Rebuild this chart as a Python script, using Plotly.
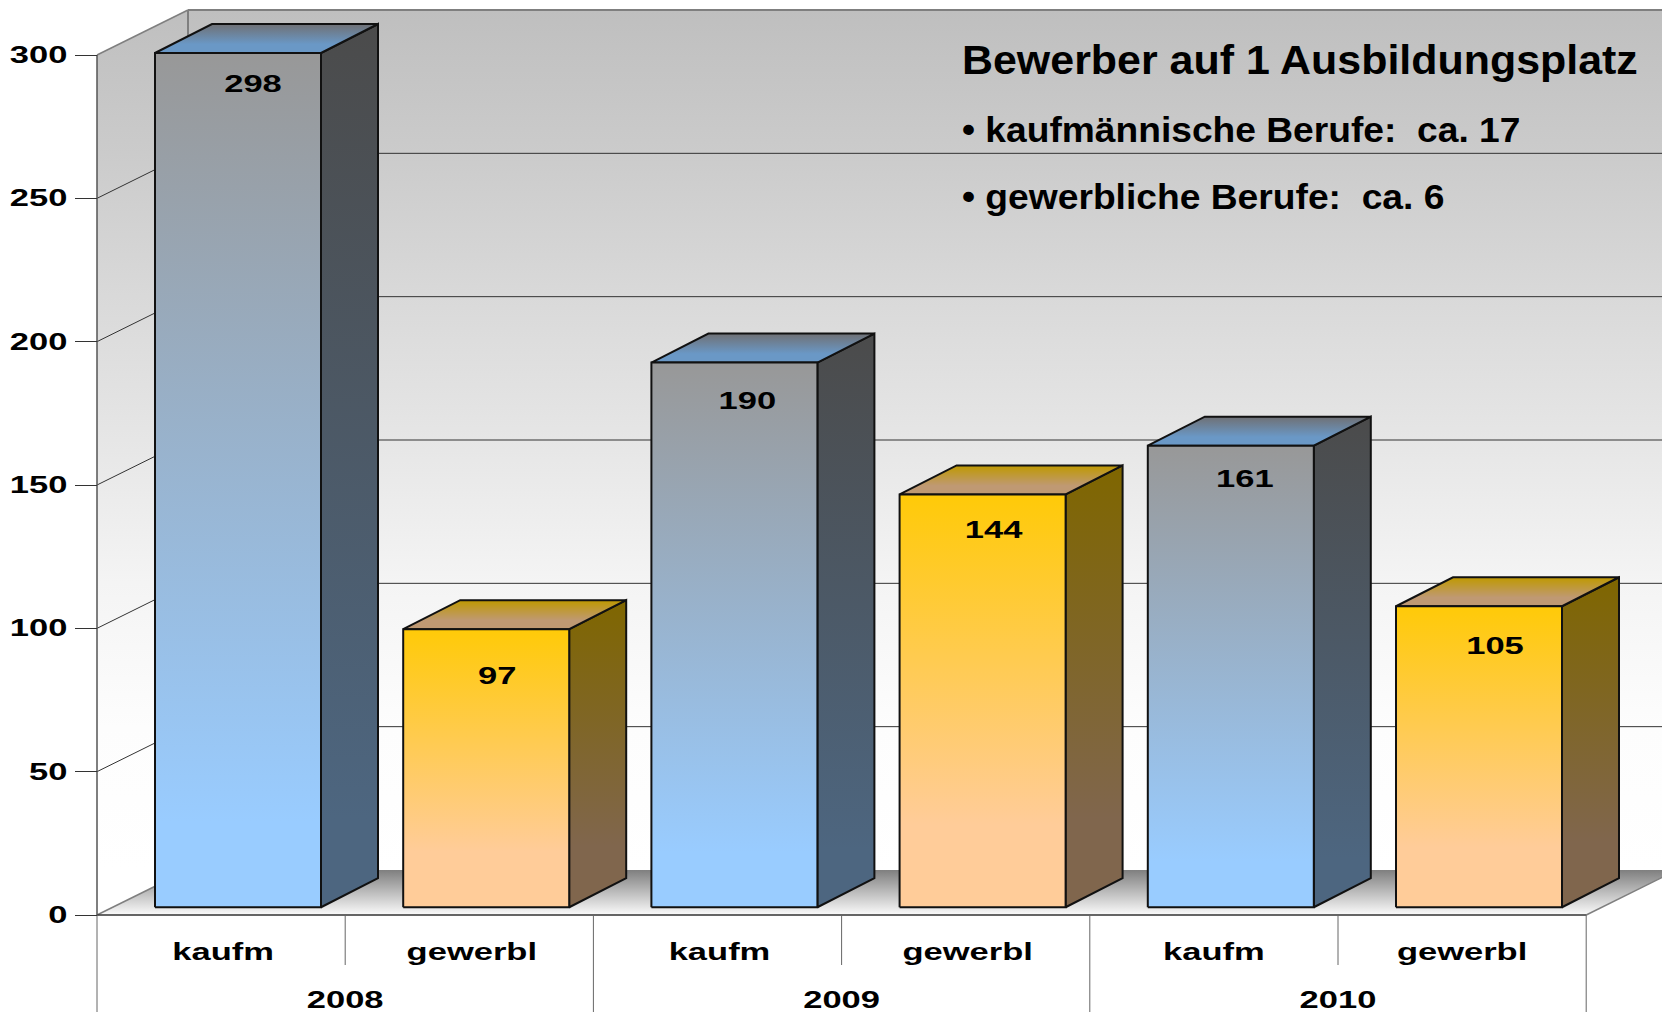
import json
import plotly.graph_objects as go

# ---- data ----
years = ["2008", "2009", "2010"]
groups = ["kaufm", "gewerbl", "kaufm", "gewerbl", "kaufm", "gewerbl"]
values = [298, 97, 190, 144, 161, 105]
y_ticks = [0, 50, 100, 150, 200, 250, 300]
title_lines = ["Bewerber auf 1 Ausbildungsplatz",
               "\u2022 kaufm\u00e4nnische Berufe:\u00a0\u00a0ca. 17",
               "\u2022 gewerbliche Berufe:\u00a0\u00a0ca. 6"]

# ---- styling / geometry ----
W, H = 1662, 1012
CAT = 248.2            # px per category
UNIT = 860 / 300       # px per value unit
X0, Y0 = 97, 915       # px of the front origin
WALL_DX, WALL_DY = 91 / CAT, 45 / UNIT
BAR_LEFT, BAR_W = 58 / CAT, 166 / CAT
BAR_LIFT = 2.7
BAR_DX, BAR_DY = 57 / CAT, 29 / UNIT
x_range = [-X0 / CAT, (W - X0) / CAT]
y_range = [-(H - Y0) / UNIT, Y0 / UNIT]
x_end = x_range[1] + 0.5
LABEL_FONT = "Liberation Sans"
LABEL_FONT_DICT = dict(family=LABEL_FONT, size=23, color="#000000", weight="bold")
BLUE = dict(front=("#989898", "#99ccff"), side=("#4b4b4b", "#4d6680"), top=("#6f7074", "#6a98c6"), flat=0.1)
GOLD = dict(front=("#ffca08", "#ffcc99"), side=("#7f6600", "#80664d"), top=("#bf9900", "#bf9973"), flat=0.2)
label_dx = [15, 11, 13, 11, 14, 16]   # px right of the bar centre
label_dy = [33, 49, 41, 38, 36, 42]   # px below the bar top
cat_shift = [2, 2.5, 2, 2, 0, 0]      # px right of the category centre
title_stretch = [1.047, 1.062, 1.063]

fig = go.Figure()


def poly(xs, ys, c_start=None, c_stop=None, start=None, stop=None, line=None, lw=1.5, flat=0.0):
    kw = {}
    if c_start is not None:
        scale = [[0, c_start], [1, c_stop]]
        if flat:
            scale = [[0, c_start], [flat, c_start], [1, c_stop]]
        kw["fillgradient"] = dict(type="vertical", start=start, stop=stop, colorscale=scale)
    fig.add_trace(go.Scatter(x=xs, y=ys, mode="lines", fill="toself" if c_start else "none",
                             line=dict(color=line or "rgba(0,0,0,0)", width=lw),
                             hoverinfo="skip", showlegend=False, **kw))


wall_top = 300 + WALL_DY
wall_bot = WALL_DY
wall_scale = [[0, "#ffffff"], [0.166, "#fdfdfd"], [0.334, "#f4f4f4"], [0.5, "#e6e6e6"],
              [0.667, "#d9d9d9"], [0.834, "#cbcbcb"], [1, "#bfbfbf"]]


def wall(xs, ys):
    fig.add_trace(go.Scatter(x=xs, y=ys, mode="lines", fill="toself", line=dict(width=0),
                             fillgradient=dict(type="vertical", start=wall_bot, stop=wall_top, colorscale=wall_scale),
                             hoverinfo="skip", showlegend=False))


# walls
wall([WALL_DX, x_end, x_end, WALL_DX, WALL_DX], [wall_bot, wall_bot, wall_top, wall_top, wall_bot])
wall([0, WALL_DX, WALL_DX, 0, 0], [0, wall_bot, wall_top, 300, 0])

# gridlines
for t in y_ticks[1:]:
    col = "#7f7f7f" if t == 300 else "#333333"
    lw = 2 if t == 300 else 1
    poly([WALL_DX, x_end], [t + WALL_DY, t + WALL_DY], line=col, lw=lw)
    if t < 300:
        poly([0, WALL_DX], [t, t + WALL_DY], line="#333333", lw=1)
poly([0, WALL_DX], [300, 300 + WALL_DY], line="#7f7f7f", lw=1.5)
poly([WALL_DX, WALL_DX], [WALL_DY, 300 + WALL_DY], line="#7f7f7f", lw=2)

# floor
poly([0, WALL_DX, 6 + WALL_DX, 6, 0], [0, WALL_DY, WALL_DY, 0, 0],
     "#fbfbfb", "#7f7f7f", 0, WALL_DY)
poly([0, WALL_DX], [0, WALL_DY], line="#7f7f7f", lw=1.5)
poly([6, 6 + WALL_DX], [0, WALL_DY], line="#7f7f7f", lw=1.5)

# bars
for i, v in enumerate(values):
    st = BLUE if i % 2 == 0 else GOLD
    x0 = i + BAR_LEFT
    x1 = x0 + BAR_W
    y0 = BAR_LIFT
    y1 = v + BAR_LIFT
    # side face
    poly([x1, x1 + BAR_DX, x1 + BAR_DX, x1, x1], [y0, y0 + BAR_DY, y1 + BAR_DY, y1, y0],
         st["side"][1], st["side"][0], y0, y1 + BAR_DY, line="#111111", lw=2, flat=st["flat"])
    # top face
    poly([x0, x0 + BAR_DX, x1 + BAR_DX, x1, x0], [y1, y1 + BAR_DY, y1 + BAR_DY, y1, y1],
         st["top"][1], st["top"][0], y1, y1 + BAR_DY, line="#111111", lw=2, flat=0.3)
    # front face
    poly([x0, x1, x1, x0, x0], [y0, y0, y1, y1, y0],
         st["front"][1], st["front"][0], y0, y1, line="#111111", lw=2, flat=st["flat"])

# value labels
fig.add_trace(go.Scatter(
    x=[i + BAR_LEFT + BAR_W / 2 + label_dx[i] / CAT for i in range(len(values))],
    y=[values[i] + BAR_LIFT - label_dy[i] / UNIT for i in range(len(values))],
    mode="text", text=[str(v) for v in values], textposition="middle center",
    textfont=LABEL_FONT_DICT, hoverinfo="skip", showlegend=False))

# frame below the plot
poly([0, 6], [0, 0], line="#333333", lw=1.5)
poly([0, 0], [0, 300], line="#555555", lw=1.5)
for k in range(7):
    low = y_range[0] if k % 2 == 0 else -50 / UNIT
    poly([k, k], [0, low], line="#666666", lw=1)

# year labels
fig.add_trace(go.Scatter(
    x=[1, 3, 5], y=[-87 / UNIT] * 3, mode="text", text=years, textposition="middle center",
    textfont=LABEL_FONT_DICT, hoverinfo="skip", showlegend=False))

# text block
for txt, yp, size in zip(title_lines, [60, 129, 196], [41, 35, 35]):
    fig.add_annotation(text=txt, xref="paper", yref="paper", x=960 / W, y=1 - yp / H,
                       xanchor="left", yanchor="middle", showarrow=False,
                       font=dict(family="Liberation Sans", size=size, color="#000000", weight="bold"))

fig.update_layout(
    width=W, height=H, margin=dict(l=0, r=0, t=0, b=0),
    paper_bgcolor="#ffffff", plot_bgcolor="#ffffff", showlegend=False,
    xaxis=dict(range=x_range, domain=[0, 1], anchor="free", position=(H - Y0) / H,
               tickmode="array", tickvals=[i + 0.5 + cat_shift[i] / CAT for i in range(6)], ticktext=groups,
               ticks="", ticklabelstandoff=21, showgrid=False, zeroline=False, showline=False,
               tickangle=0, tickfont=LABEL_FONT_DICT),
    yaxis=dict(range=y_range, domain=[0, 1], anchor="free", position=X0 / W,
               tickmode="array", tickvals=y_ticks, ticks="outside", ticklen=22, tickwidth=1,
               tickcolor="#333333", ticklabelstandoff=3, showgrid=False, zeroline=False, showline=False,
               tickfont=LABEL_FONT_DICT),
)

# The reference's labels are horizontally stretched Arial-style glyphs.
post = """
document.body.style.margin='0';document.body.style.overflow='hidden';
function stretch(t,k){
  var w=t.getComputedTextLength();
  t.setAttribute('lengthAdjust','spacingAndGlyphs');
  t.setAttribute('textLength',w*k);
  return w*k-w;}
function stretchAll(sel,k){document.querySelectorAll(sel).forEach(function(t){stretch(t,k);});}
setTimeout(function(){
  stretchAll('.xtick text',1.5);stretchAll('.ytick text',1.5);stretchAll('.textpoint text',1.5);
  var ks=__KS__;
  document.querySelectorAll('.annotation-text').forEach(function(t,i){
    var extra=stretch(t,ks[i]);
    t.setAttribute('x',parseFloat(t.getAttribute('x')||0)+extra/2);
  });
},30);
""".replace("__KS__", json.dumps(title_stretch))
fig.write_html("out.html", config={"displayModeBar": False}, post_script=post)
